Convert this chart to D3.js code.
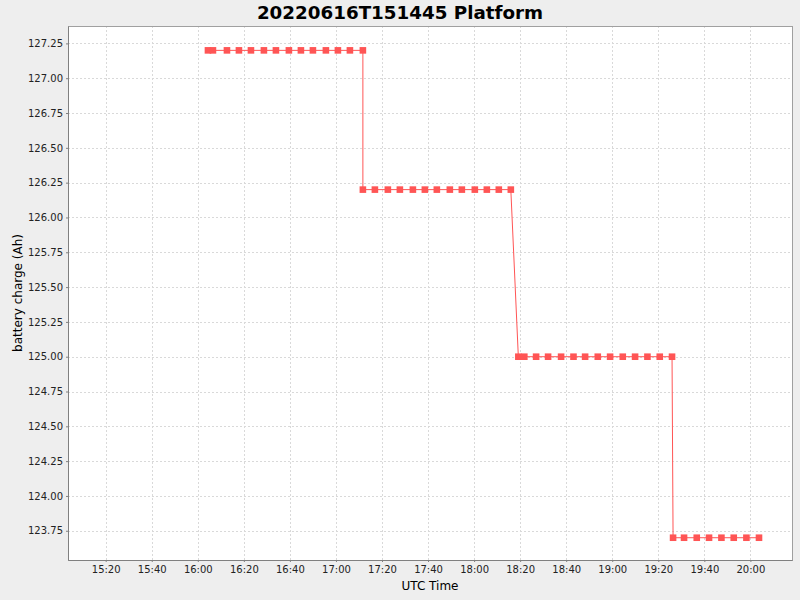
<!DOCTYPE html>
<html>
<head>
<meta charset="utf-8">
<script src="https://cdn.jsdelivr.net/npm/d3@7"></script>
<style>
  html, body { margin: 0; padding: 0; background: #eeeeee; }
  svg { display: block; font-family: "DejaVu Sans", sans-serif; }
</style>
</head>
<body>
<svg id="chart" width="800" height="600"></svg>
<script>
// ---- data ----
const chartTitle = "20220616T151445 Platform";
const xAxisLabel = "UTC Time";
const yAxisLabel = "battery charge (Ah)";
const dateStr = "2022-06-16";
const times = [
  "16:04:25","16:06:35","16:12:40","16:17:52","16:23:05","16:28:43","16:33:56","16:39:34",
  "16:44:47","16:50:00","16:55:38","17:00:51","17:06:04","17:11:42",
  "17:11:42","17:16:55","17:22:33","17:27:46","17:33:25","17:38:37","17:43:49","17:49:28",
  "17:54:41","18:00:19","18:05:32","18:10:44","18:15:57",
  "18:19:13","18:21:49","18:26:56","18:32:08","18:37:47","18:43:10","18:48:13","18:53:43",
  "18:59:04","19:04:34","19:09:55","19:15:17","19:20:38","19:25:58",
  "19:26:25","19:31:11","19:36:42","19:42:02","19:47:25","19:52:46","19:58:16","20:03:44"
];
const charge = [
  127.2,127.2,127.2,127.2,127.2,127.2,127.2,127.2,127.2,127.2,127.2,127.2,127.2,127.2,
  126.2,126.2,126.2,126.2,126.2,126.2,126.2,126.2,126.2,126.2,126.2,126.2,126.2,
  125.0,125.0,125.0,125.0,125.0,125.0,125.0,125.0,125.0,125.0,125.0,125.0,125.0,125.0,
  123.7,123.7,123.7,123.7,123.7,123.7,123.7,123.7
];
const xDomain = ["15:03:38", "20:18:04"];
const yDomain = [123.54, 127.375];
const xTickLabels = ["15:20","15:40","16:00","16:20","16:40","17:00","17:20","17:40","18:00","18:20","18:40","19:00","19:20","19:40","20:00"];
const yTickValues = [123.75,124.0,124.25,124.5,124.75,125.0,125.25,125.5,125.75,126.0,126.25,126.5,126.75,127.0,127.25];

// ---- drawing ----
const toDate = t => new Date(dateStr + "T" + t + "Z");
const data = times.map((t, i) => ({ t: toDate(t), v: charge[i] }));

const svg = d3.select("#chart");
const margin = { left: 68, top: 26, right: 8, bottom: 40 };
const W = 800, H = 600;
const pw = W - margin.left - margin.right; // 724
const ph = H - margin.top - margin.bottom; // 534

const x = d3.scaleUtc().domain(xDomain.map(toDate)).range([0, pw]);
const y = d3.scaleLinear().domain(yDomain).range([ph, 0]);

const g = svg.append("g").attr("transform", `translate(${margin.left},${margin.top})`);

g.append("rect").attr("width", pw).attr("height", ph).attr("fill", "#ffffff");

const xTicks = xTickLabels.map(toDate);

// gridlines
g.append("g").selectAll("line").data(xTicks).join("line")
  .attr("x1", d => Math.round(x(d)) + 0.5).attr("x2", d => Math.round(x(d)) + 0.5)
  .attr("y1", 0).attr("y2", ph)
  .attr("stroke", "#d9d9d9").attr("stroke-dasharray", "2,2").attr("stroke-width", 1);
g.append("g").selectAll("line").data(yTickValues).join("line")
  .attr("y1", d => Math.round(y(d)) + 0.5).attr("y2", d => Math.round(y(d)) + 0.5)
  .attr("x1", 0).attr("x2", pw)
  .attr("stroke", "#d9d9d9").attr("stroke-dasharray", "2,2").attr("stroke-width", 1);

// border
g.append("rect").attr("x", 0.5).attr("y", 0.5).attr("width", pw).attr("height", ph)
  .attr("fill", "none").attr("stroke", "#a0a0a0");

// axes
const xAxis = d3.axisBottom(x).tickValues(xTicks).tickFormat(d3.utcFormat("%H:%M"))
  .tickSizeInner(2).tickSizeOuter(0).tickPadding(4);
const xg = g.append("g").attr("transform", `translate(0,${ph})`).call(xAxis);
const yAxis = d3.axisLeft(y).tickValues(yTickValues).tickFormat(d3.format(".2f"))
  .tickSizeInner(2).tickSizeOuter(0).tickPadding(3);
const yg = g.append("g").call(yAxis);
[xg, yg].forEach(a => {
  a.select(".domain").attr("stroke", "#808080");
  a.selectAll(".tick line").attr("stroke", "#808080");
  a.selectAll("text").attr("fill", "#222").attr("font-size", 10).attr("font-family", "DejaVu Sans, sans-serif");
});

// line
const line = d3.line().x(d => x(d.t)).y(d => y(d.v));
g.append("path").datum(data).attr("d", line)
  .attr("fill", "none").attr("stroke", "#ff5555").attr("stroke-width", 1);

// markers
const ms = 6.6;
g.append("g").selectAll("rect").data(data).join("rect")
  .attr("x", d => x(d.t) - ms / 2).attr("y", d => y(d.v) - ms / 2)
  .attr("width", ms).attr("height", ms).attr("fill", "#ff5555");

// titles
svg.append("text").attr("x", 400).attr("y", 19).attr("text-anchor", "middle")
  .attr("font-size", 18.3).attr("font-weight", "bold").attr("fill", "#000")
  .text(chartTitle);
svg.append("text").attr("x", margin.left + pw / 2).attr("y", 590).attr("text-anchor", "middle")
  .attr("font-size", 12).attr("fill", "#000").text(xAxisLabel);
svg.append("text").attr("transform", `translate(22,${margin.top + ph / 2}) rotate(-90)`)
  .attr("text-anchor", "middle").attr("font-size", 12).attr("fill", "#000").text(yAxisLabel);
</script>
</body>
</html>
